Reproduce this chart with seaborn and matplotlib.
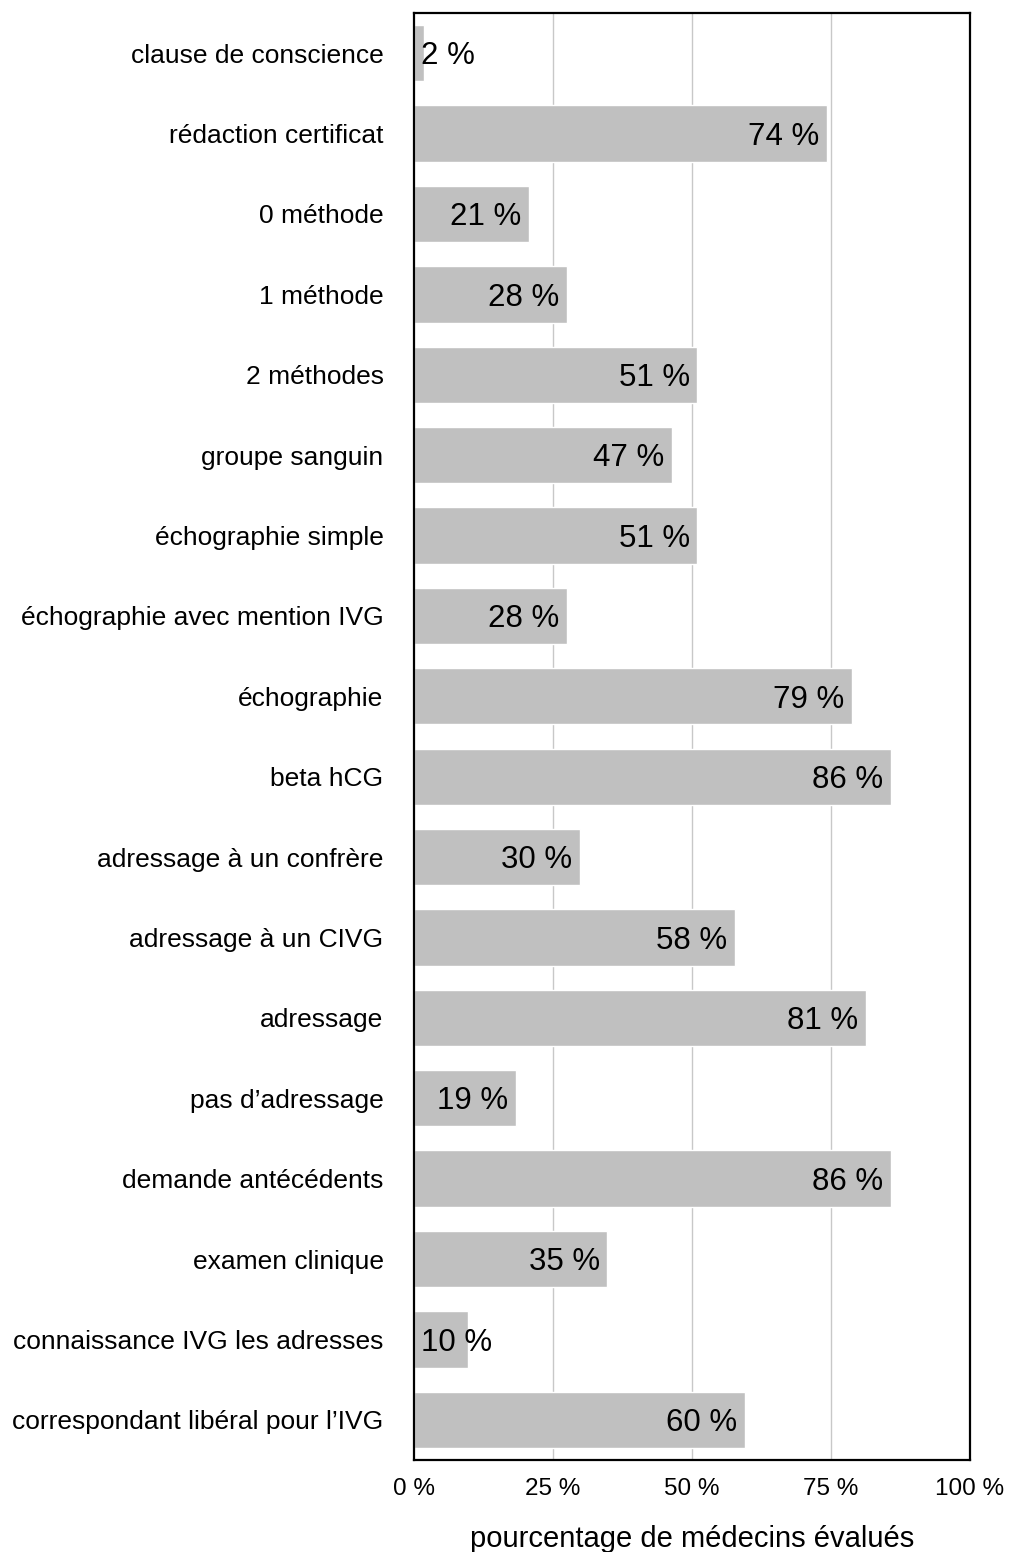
import pandas as pd
import seaborn as sns
import matplotlib
matplotlib.use('Agg')
import matplotlib.pyplot as plt

# Données (pourcentage de médecins évalués)
categories = [
    'clause de conscience',
    'rédaction certificat',
    '0 méthode',
    '1 méthode',
    '2 méthodes',
    'groupe sanguin',
    'échographie simple',
    'échographie avec mention IVG',
    'échographie',
    'beta hCG',
    'adressage à un confrère',
    'adressage à un CIVG',
    'adressage',
    'pas d\u2019adressage',
    'demande antécédents',
    'examen clinique',
    'connaissance IVG les adresses',
    'correspondant libéral pour l\u2019IVG',
]
values = [1.8, 74.3, 20.7, 27.6, 51.0, 46.5, 51.0, 27.6, 78.9, 85.8,
          29.9, 57.8, 81.4, 18.4, 85.8, 34.8, 9.7, 59.6]
value_labels = ['2 %', '74 %', '21 %', '28 %', '51 %', '47 %', '51 %', '28 %', '79 %',
                '86 %', '30 %', '58 %', '81 %', '19 %', '86 %', '35 %', '10 %', '60 %']
x_ticks = [0, 25, 50, 75, 100]
x_tick_labels = ['0 %', '25 %', '50 %', '75 %', '100 %']

df = pd.DataFrame({'categorie': categories, 'valeur': values})

sns.set_style('white')
plt.rcParams['font.family'] = ['Liberation Sans', 'DejaVu Sans']
plt.rcParams['text.color'] = 'black'
plt.rcParams['xtick.color'] = 'black'
plt.rcParams['ytick.color'] = 'black'
plt.rcParams['axes.labelcolor'] = 'black'

fig = plt.figure(figsize=(10.1, 15.52), dpi=100)
ax = fig.add_axes([0.41, 0.0593, 0.55, 0.9323])

# grille verticale derrière les barres
for t in x_ticks[1:-1]:
    ax.axvline(t, color='#c8c8c8', linewidth=1, zorder=0)

sns.barplot(data=df, x='valeur', y='categorie', orient='h', color='#c0c0c0',
            width=0.7, saturation=1, ax=ax, zorder=2)

# étiquettes de valeur (ligne de base décalée pour centrer les chiffres)
for i, (v, lab) in enumerate(zip(values, value_labels)):
    if v < 12:
        ax.text(1.3, i + 0.14, lab, ha='left', va='baseline', fontsize=22.5, zorder=3)
    else:
        ax.text(v - 1.4, i + 0.14, lab, ha='right', va='baseline', fontsize=22.5, zorder=3)

ax.set_xlim(0, 100)
ax.set_ylim(len(categories) - 0.5, -0.5)
ax.set_xticks(x_ticks)
ax.set_xticklabels(x_tick_labels, fontsize=17.5)
ax.tick_params(axis='x', length=0, pad=13)
ax.tick_params(axis='y', length=0, pad=22, labelsize=19)
ax.set_xlabel('pourcentage de médecins évalués', fontsize=21, labelpad=18)
ax.set_ylabel('')

for s in ax.spines.values():
    s.set_visible(True)
    s.set_color('black')
    s.set_linewidth(1.6)

plt.savefig('out.png', dpi=100)
